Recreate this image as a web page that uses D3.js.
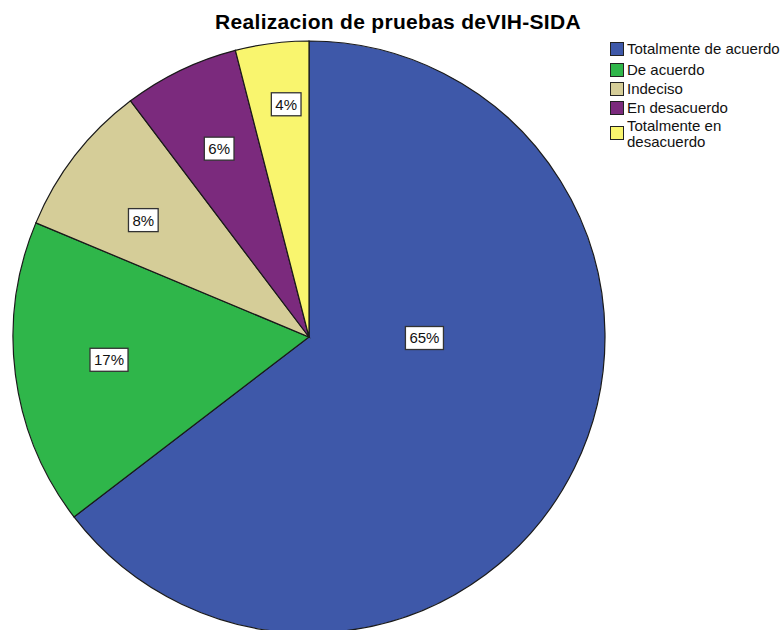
<html lang="en">
<head>
    <meta charset="UTF-8">
    <script src="https://d3js.org/d3.v7.min.js"></script>
    <title>Realizacion de pruebas</title>
    <style>
        body { margin: 0; background: #fff; }
        svg { font-family: "Liberation Sans", Arial, sans-serif; }
    </style>
</head>
<body>
<script>
    // data
    const categories = ['Totalmente de acuerdo', 'De acuerdo', 'Indeciso', 'En desacuerdo', 'Totalmente en desacuerdo'];
    const percents = [64.6, 16.7, 8.4, 6.3, 4.0];
    const labels = ['65%', '17%', '8%', '6%', '4%'];
    const colors = ['#3e58a9', '#2fb64a', '#d5cd98', '#7b2a7d', '#f9f56e'];

    // label placement, polar: [angle deg clockwise from top, fraction of radius]
    const labelPolar = [[90.5, 0.39], [263.5, 0.68], [305.2, 0.685], [334.5, 0.705], [354.4, 0.79]];

    const w = 784, h = 630;
    const cx = 309, cy = 337, r = 296;

    const svg = d3.select('body').append('svg')
        .attr('width', w)
        .attr('height', h);

    svg.append('text')
        .attr('x', 398)
        .attr('y', 29)
        .attr('text-anchor', 'middle')
        .style('font-size', '21px')
        .style('letter-spacing', '0.3px')
        .style('font-weight', 'bold')
        .text('Realizacion de pruebas deVIH-SIDA');

    const pie = d3.pie().sort(null).value(d => d);
    const arc = d3.arc().innerRadius(0).outerRadius(r);

    const g = svg.append('g').attr('transform', 'translate(' + cx + ',' + cy + ')');

    g.selectAll('path')
        .data(pie(percents))
        .enter()
        .append('path')
        .attr('d', arc)
        .attr('fill', (d, i) => colors[i])
        .attr('stroke', '#1a1a1a')
        .attr('stroke-width', 1.2);

    // percentage labels in white boxes
    const lab = g.selectAll('.lab')
        .data(labels)
        .enter()
        .append('g')
        .attr('class', 'lab')
        .attr('transform', (d, i) => {
            const a = labelPolar[i][0] * Math.PI / 180;
            const rr = labelPolar[i][1] * r;
            return 'translate(' + (Math.sin(a) * rr) + ',' + (-Math.cos(a) * rr) + ')';
        });

    lab.each(function (d) {
        const el = d3.select(this);
        const t = el.append('text')
            .attr('text-anchor', 'middle')
            .attr('dy', '0.36em')
            .style('font-size', '15px')
            .style('fill', '#111')
            .text(d);
        const bw = t.node().getComputedTextLength() + 8;
        el.insert('rect', 'text')
            .attr('x', -bw / 2)
            .attr('y', -11.5)
            .attr('width', bw)
            .attr('height', 23)
            .attr('fill', '#fff')
            .attr('stroke', '#333')
            .attr('stroke-width', 1.3);
    });

    // legend
    const legend = svg.append('g').attr('transform', 'translate(610,42)');
    const rowY = [0, 21, 40, 59, 78];

    categories.forEach((c, i) => {
        const row = legend.append('g').attr('transform', 'translate(0,' + rowY[i] + ')');
        const twoLine = i === 4;
        row.append('rect')
            .attr('x', 0.5)
            .attr('y', twoLine ? 6.5 : 0.5)
            .attr('width', 13)
            .attr('height', 13)
            .attr('fill', colors[i])
            .attr('stroke', '#222')
            .attr('stroke-width', 1);
        const t = row.append('text')
            .attr('x', 17)
            .attr('y', 12)
            .style('font-size', '15px')
            .style('fill', '#111');
        if (twoLine) {
            t.append('tspan').attr('x', 17).attr('y', 11).text('Totalmente en');
            t.append('tspan').attr('x', 17).attr('dy', 16).text('desacuerdo');
        } else {
            t.text(c);
        }
    });
</script>
</body>
</html>
